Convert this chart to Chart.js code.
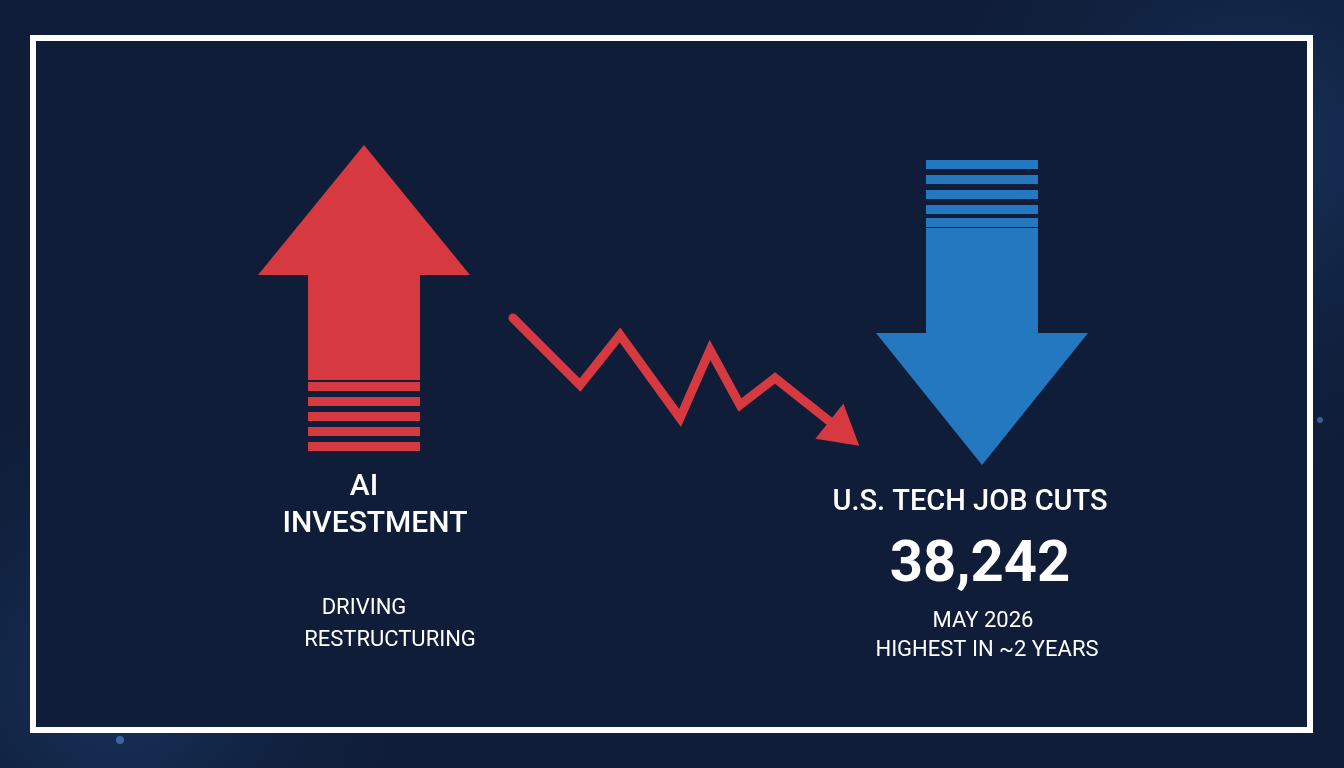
<!DOCTYPE html>
<html><head><meta charset="utf-8">
<script src="https://cdn.jsdelivr.net/npm/chart.js@4/dist/chart.umd.min.js"></script>
<style>
html,body{margin:0;padding:0;background:#0f1d38;overflow:hidden}
#wrap{position:absolute;left:0;top:0;width:1344px;height:768px}
</style></head><body>
<div id="wrap"><canvas id="c" width="1344" height="768"></canvas></div>
<script>
// zigzag trend line (x, y in page units)
const zigX = [513, 580, 620, 680, 710, 740, 775, 838];
const zigY = [318, 385, 335, 418, 350, 405, 378, 428];
// up arrow (AI investment) and down arrow (job cuts)
const upArrow = {cx: 364, tip: 145, headBase: 275, headHalf: 106, shaftHalf: 56, shaftEnd: 380, stripes: [382, 397, 412, 427, 442], stripeH: 9};
const downArrow = {cx: 982, tip: 465, headBase: 333, headHalf: 106, shaftHalf: 56, shaftTop: 228, stripes: [160, 175, 190, 205, 218], stripeH: 9};
const leftLabels = [["AI", 364, 487, 30, "500"], ["INVESTMENT", 375, 524, 30, "500"], ["DRIVING", 364, 608, 22, "400"], ["RESTRUCTURING", 390, 640, 22, "400"]];
const rightLabels = [["U.S. TECH JOB CUTS", 970, 503, 29, "500"], ["38,242", 980, 566, 58, "700"], ["MAY 2026", 983, 621, 22, "400"], ["HIGHEST IN ~2 YEARS", 987, 650, 22, "400"]];
const bgDots = [[1230,120,5],[1150,100,3],[1290,160,4],[1200,150,3],[1260,60,3],[1100,60,2],[1180,230,3],[1300,260,4],[1240,300,2],[130,610,4],[80,650,3],[160,680,5],[60,560,2],[200,720,3],[120,740,4],[40,700,3],[1320,420,3],[1290,500,2],[900,40,2],[820,100,2]];

const red = '#d63a40', blue = '#2478c0';
const drawPlugin = {
  id: 'infographic',
  beforeDraw(chart) {
    const ctx = chart.ctx, sx = chart.scales.x, sy = chart.scales.y;
    const X = v => sx.getPixelForValue(v), Y = v => sy.getPixelForValue(v);
    ctx.save();
    ctx.fillStyle = '#0f1d38'; ctx.fillRect(0, 0, chart.width, chart.height);
    let g = ctx.createRadialGradient(X(1250), Y(150), 10, X(1250), Y(150), 350);
    g.addColorStop(0, 'rgba(40,90,160,0.35)'); g.addColorStop(1, 'rgba(15,29,56,0)');
    ctx.fillStyle = g; ctx.fillRect(0, 0, chart.width, chart.height);
    g = ctx.createRadialGradient(X(120), Y(680), 10, X(120), Y(680), 320);
    g.addColorStop(0, 'rgba(40,90,160,0.35)'); g.addColorStop(1, 'rgba(15,29,56,0)');
    ctx.fillStyle = g; ctx.fillRect(0, 0, chart.width, chart.height);
    ctx.fillStyle = 'rgba(90,150,230,0.55)';
    bgDots.forEach(d => { ctx.beginPath(); ctx.arc(X(d[0]), Y(d[1]), d[2], 0, Math.PI*2); ctx.fill(); });
    // frame
    ctx.strokeStyle = '#ffffff'; ctx.lineWidth = 6;
    ctx.strokeRect(X(33), Y(38), X(1310) - X(33), Y(730) - Y(38));
    ctx.fillStyle = '#0f1d38'; ctx.fillRect(X(36), Y(41), X(1307) - X(36), Y(727) - Y(41));
    ctx.restore();
  },
  afterDatasetsDraw(chart) {
    const ctx = chart.ctx, sx = chart.scales.x, sy = chart.scales.y;
    const X = v => sx.getPixelForValue(v), Y = v => sy.getPixelForValue(v);
    ctx.save();
    // up arrow
    const u = upArrow;
    ctx.fillStyle = red;
    ctx.beginPath(); ctx.moveTo(X(u.cx), Y(u.tip)); ctx.lineTo(X(u.cx + u.headHalf), Y(u.headBase)); ctx.lineTo(X(u.cx - u.headHalf), Y(u.headBase)); ctx.closePath(); ctx.fill();
    ctx.fillRect(X(u.cx - u.shaftHalf), Y(u.headBase - 1), X(u.cx + u.shaftHalf) - X(u.cx - u.shaftHalf), Y(u.shaftEnd) - Y(u.headBase - 1));
    u.stripes.forEach(s => ctx.fillRect(X(u.cx - u.shaftHalf), Y(s), X(u.cx + u.shaftHalf) - X(u.cx - u.shaftHalf), Y(s + u.stripeH) - Y(s)));
    // down arrow
    const d = downArrow;
    ctx.fillStyle = blue;
    ctx.beginPath(); ctx.moveTo(X(d.cx), Y(d.tip)); ctx.lineTo(X(d.cx + d.headHalf), Y(d.headBase)); ctx.lineTo(X(d.cx - d.headHalf), Y(d.headBase)); ctx.closePath(); ctx.fill();
    ctx.fillRect(X(d.cx - d.shaftHalf), Y(d.shaftTop), X(d.cx + d.shaftHalf) - X(d.cx - d.shaftHalf), Y(d.headBase + 1) - Y(d.shaftTop));
    d.stripes.forEach(s => ctx.fillRect(X(d.cx - d.shaftHalf), Y(s), X(d.cx + d.shaftHalf) - X(d.cx - d.shaftHalf), Y(s + d.stripeH) - Y(s)));
    // zigzag arrowhead
    const n = zigX.length, ex = X(zigX[n-1]), ey = Y(zigY[n-1]), px = X(zigX[n-2]), py = Y(zigY[n-2]);
    const ang = Math.atan2(ey - py, ex - px);
    const tx = ex + Math.cos(ang) * 22, ty = ey + Math.sin(ang) * 22;
    ctx.fillStyle = red;
    ctx.beginPath(); ctx.moveTo(tx + 4, ty + 4);
    ctx.lineTo(tx - Math.cos(ang - 0.6) * 40, ty - Math.sin(ang - 0.6) * 40);
    ctx.lineTo(tx - Math.cos(ang + 0.6) * 40, ty - Math.sin(ang + 0.6) * 40);
    ctx.closePath(); ctx.fill();
    // text
    ctx.fillStyle = '#ffffff'; ctx.textAlign = 'center'; ctx.textBaseline = 'middle';
    leftLabels.concat(rightLabels).forEach(t => {
      ctx.font = t[4] + ' ' + t[3] + 'px "Roboto", "Liberation Sans", sans-serif';
      ctx.fillText(t[0], X(t[1]), Y(t[2]));
    });
    ctx.restore();
  }
};

new Chart(document.getElementById('c'), {
  type: 'scatter',
  data: { datasets: [{
    data: zigX.map((x, i) => ({x, y: zigY[i]})),
    showLine: true, borderColor: red, borderWidth: 9, pointRadius: 0,
    borderJoinStyle: 'miter', borderCapStyle: 'round', tension: 0
  }]},
  options: {
    responsive: false, animation: false, devicePixelRatio: 1,
    layout: { padding: 0 },
    plugins: { legend: { display: false }, tooltip: { enabled: false } },
    scales: {
      x: { type: 'linear', min: 0, max: 1344, display: false },
      y: { type: 'linear', min: 0, max: 768, reverse: true, display: false }
    }
  },
  plugins: [drawPlugin]
});
</script>
</body></html>
